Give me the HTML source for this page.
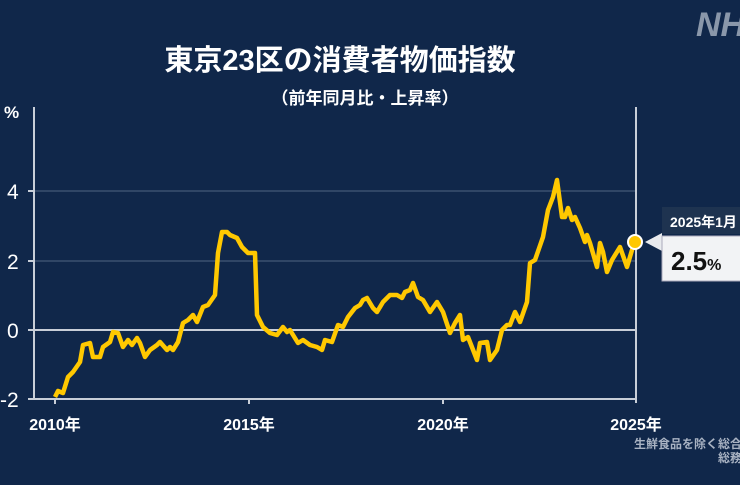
<!DOCTYPE html>
<html><head><meta charset="utf-8"><style>
body{margin:0;width:740px;height:485px;overflow:hidden;background:#10274a;font-family:"Liberation Sans","Noto Sans CJK JP",sans-serif}
</style></head><body>
<svg width="740" height="485" xmlns="http://www.w3.org/2000/svg" style="display:block">
<rect width="740" height="485" fill="#10274a"/>
<text x="696" y="36" fill="#8a97aa" font-size="34" font-weight="bold" font-style="italic" font-family="Liberation Sans,sans-serif">NH</text>
<text x="340" y="70" fill="#fff" font-size="29" font-weight="bold" text-anchor="middle" font-family="Liberation Sans,Noto Sans CJK JP,sans-serif">東京23区の消費者物価指数</text>
<text x="365" y="104" fill="#fff" font-size="17" font-weight="bold" text-anchor="middle" font-family="Liberation Sans,Noto Sans CJK JP,sans-serif">（前年同月比・上昇率）</text>
<g stroke="#3a5070" stroke-width="1.5"><line x1="34" y1="191" x2="635" y2="191"/><line x1="34" y1="261" x2="635" y2="261"/></g>
<g stroke="#c8ced8" stroke-width="2"><line x1="34" y1="330" x2="635" y2="330"/><line x1="34" y1="399" x2="635" y2="399"/><line x1="34" y1="107" x2="34" y2="400"/><line x1="636" y1="107" x2="636" y2="403"/>
<line x1="28" y1="191" x2="34" y2="191"/><line x1="28" y1="261" x2="34" y2="261"/><line x1="28" y1="330" x2="34" y2="330"/><line x1="28" y1="399" x2="34" y2="399"/><line x1="55" y1="399" x2="55" y2="404"/><line x1="249" y1="399" x2="249" y2="404"/><line x1="443" y1="399" x2="443" y2="404"/></g>
<g fill="#fff" font-size="21" font-family="Liberation Sans,sans-serif"><text x="4" y="118" font-size="17" font-weight="bold">%</text><text x="7" y="199">4</text><text x="7" y="269">2</text><text x="7" y="338">0</text><text x="0" y="407">-2</text></g>
<g fill="#fff" font-size="16" font-weight="bold" font-family="Liberation Sans,Noto Sans CJK JP,sans-serif" text-anchor="middle"><text x="55" y="430">2010年</text><text x="249" y="430">2015年</text><text x="443" y="430">2020年</text><text x="636" y="430">2025年</text></g>
<text x="742" y="448" fill="#a8b2c2" font-size="12" font-weight="bold" text-anchor="end" font-family="Liberation Sans,Noto Sans CJK JP,sans-serif">生鮮食品を除く総合</text>
<text x="742" y="462" fill="#a8b2c2" font-size="12" font-weight="bold" text-anchor="end" font-family="Liberation Sans,Noto Sans CJK JP,sans-serif">総務</text>
<polyline fill="none" stroke="#ffc800" stroke-width="4.5" stroke-linejoin="round" points="55,397 58,391 63,393 68,377 73,372 80,362 83,345 90,343 93,357 100,357 103,347 110,342 113,332 118,333 123,347 128,340 132,345 137,338 140,343 145,357 150,350 157,345 160,342 167,350 170,347 173,350 178,342 183,323 188,320 193,315 197,322 203,307 208,305 215,295 218,253 222,232 227,232 230,235 237,238 242,247 248,253 255,253 257,315 263,327 270,333 277,335 283,327 287,332 290,330 298,343 303,340 310,345 317,347 322,350 325,340 332,342 338,325 343,327 348,317 355,308 360,305 363,300 367,298 373,308 377,312 383,302 390,295 397,295 402,298 405,292 410,290 413,283 418,297 423,300 430,312 437,302 443,312 450,333 455,323 460,315 463,340 468,337 477,360 480,343 487,342 490,360 497,350 502,330 507,325 510,325 515,312 520,322 527,302 530,263 535,260 543,237 548,210 553,197 557,180 562,217 565,217 568,208 572,220 575,217 580,228 585,242 587,235 590,243 597,267 600,243 603,252 607,272 612,260 620,247 627,267 632,250 635,242"/>
<circle cx="635" cy="242" r="7" fill="#ffc800" stroke="#fff" stroke-width="2"/>
<rect x="662" y="207" width="80" height="27" fill="#1e3350"/>
<text x="670" y="227" fill="#fff" font-size="14" font-weight="bold" font-family="Liberation Sans,Noto Sans CJK JP,sans-serif">2025年1月</text>
<polygon points="645,242 662,233 662,251" fill="#e8eaee"/>
<rect x="662" y="236" width="80" height="45" fill="#f2f3f5" stroke="#aab" stroke-width="1"/>
<text x="671" y="270" fill="#111" font-size="26" font-weight="bold" font-family="Liberation Sans,sans-serif">2.5<tspan font-size="16">%</tspan></text>
</svg>
</body></html>
